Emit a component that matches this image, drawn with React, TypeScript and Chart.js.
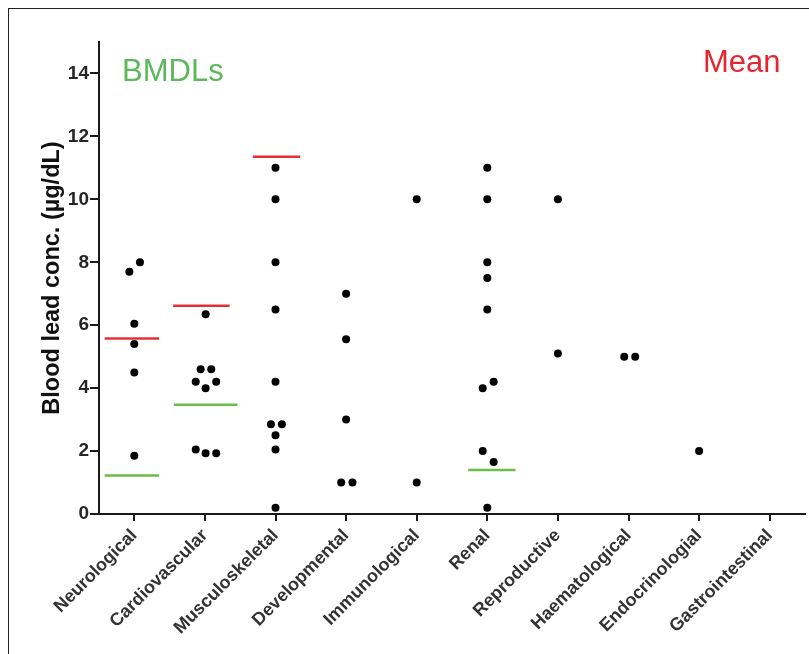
import React, { useEffect, useRef } from 'react';
import { Chart, registerables } from 'chart.js';

Chart.register(...registerables);

// ---- data ----
const categories = [
  'Neurological',
  'Cardiovascular',
  'Musculoskeletal',
  'Developmental',
  'Immunological',
  'Renal',
  'Reproductive',
  'Haematological',
  'Endocrinologial',
  'Gastrointestinal',
];

const yTicks = [0, 2, 4, 6, 8, 10, 12, 14];

const neurological = [8.0, 7.7, 6.05, 5.4, 4.5, 1.85];
const neurologicalJitter = [0.08, -0.07, 0, 0, 0, 0];

const cardiovascular = [6.35, 4.6, 4.6, 4.2, 4.2, 4.0, 2.05, 1.93, 1.93];
const cardiovascularJitter = [0.01, -0.06, 0.09, -0.13, 0.16, 0.01, -0.13, 0.01, 0.16];

const musculoskeletal = [11, 10, 8, 6.5, 4.2, 2.85, 2.85, 2.5, 2.05, 0.2];
const musculoskeletalJitter = [0, 0, 0, 0, 0, -0.065, 0.09, 0, 0, 0];

const developmental = [7.0, 5.55, 3.0, 1.0, 1.0];
const developmentalJitter = [0, 0, 0, -0.07, 0.09];

const immunological = [10, 1.0];
const immunologicalJitter = [0, 0];

const renal = [11, 10, 8.0, 7.5, 6.5, 4.2, 4.0, 2.0, 1.65, 0.2];
const renalJitter = [0, 0, 0, 0, 0, 0.09, -0.065, -0.065, 0.09, 0];

const reproductive = [10, 5.1];
const reproductiveJitter = [0, 0];

const haematological = [5.0, 5.0];
const haematologicalJitter = [-0.06, 0.095];

const endocrinological = [2.0];
const endocrinologicalJitter = [0];

const gastrointestinal: number[] = [];
const gastrointestinalJitter: number[] = [];

const pointValues = [
  neurological, cardiovascular, musculoskeletal, developmental, immunological,
  renal, reproductive, haematological, endocrinological, gastrointestinal,
];
const pointJitter = [
  neurologicalJitter, cardiovascularJitter, musculoskeletalJitter, developmentalJitter,
  immunologicalJitter, renalJitter, reproductiveJitter, haematologicalJitter,
  endocrinologicalJitter, gastrointestinalJitter,
];

// mean lines (red)
const meanCats = [0, 1, 2];
const meanValues = [5.58, 6.62, 11.35];
const meanFrom = [-0.42, -0.45, -0.32];
const meanTo = [0.35, 0.35, 0.35];

// BMDL lines (green)
const bmdlCats = [0, 1, 5];
const bmdlValues = [1.22, 3.47, 1.4];
const bmdlFrom = [-0.42, -0.44, -0.27];
const bmdlTo = [0.35, 0.46, 0.4];

const RED = '#e2303a';
const GREEN = '#6cbd47';
const FONT = '"Liberation Sans", Arial, Helvetica, sans-serif';

const textPlugin = {
  id: 'cornerText',
  afterDraw(chart: any) {
    const ctx = chart.ctx;
    ctx.save();
    ctx.font = `31px ${FONT}`;
    ctx.textBaseline = 'alphabetic';
    ctx.textAlign = 'left';
    ctx.fillStyle = '#5cb85a';
    ctx.fillText('BMDLs', 122, 81);
    ctx.fillStyle = '#e3262f';
    ctx.fillText('Mean', 703, 72);
    ctx.restore();
  },
};

export default function App() {
  const ref = useRef<HTMLCanvasElement | null>(null);

  useEffect(() => {
    if (!ref.current) return;

    const points: { x: number; y: number }[] = [];
    pointValues.forEach((vals, ci) => {
      vals.forEach((v, k) => points.push({ x: ci + pointJitter[ci][k], y: v }));
    });

    const lineDs = (cat: number, v: number, from: number, to: number, color: string) => ({
      type: 'scatter' as const,
      data: [
        { x: cat + from, y: v },
        { x: cat + to, y: v },
      ],
      showLine: true,
      borderColor: color,
      borderWidth: 2.5,
      pointRadius: 0,
      pointHoverRadius: 0,
      fill: false,
    });

    const datasets: any[] = [
      ...meanCats.map((c, i) => lineDs(c, meanValues[i], meanFrom[i], meanTo[i], RED)),
      ...bmdlCats.map((c, i) => lineDs(c, bmdlValues[i], bmdlFrom[i], bmdlTo[i], GREEN)),
      {
        type: 'scatter',
        data: points,
        pointRadius: 4,
        pointHoverRadius: 4,
        backgroundColor: '#000',
        borderWidth: 0,
      },
    ];

    const chart = new Chart(ref.current, {
      type: 'scatter',
      data: { datasets },
      plugins: [textPlugin],
      options: {
        responsive: false,
        animation: false,
        events: [],
        layout: { padding: { left: 0, top: 42, right: 0, bottom: 0 } },
        plugins: { legend: { display: false }, tooltip: { enabled: false } },
        scales: {
          x: {
            type: 'linear',
            min: -0.5,
            max: 9.5,
            afterFit: (s: any) => { s.height = 140; },
            afterBuildTicks: (s: any) => { s.ticks = categories.map((_, i) => ({ value: i })); },
            border: { display: true, color: '#1a1a1a', width: 2 },
            grid: { display: true, drawOnChartArea: false, drawTicks: true, tickLength: 7, lineWidth: 2, color: '#1a1a1a' },
            ticks: {
              autoSkip: false,
              maxRotation: 45,
              minRotation: 45,
              padding: 4,
              color: '#333',
              font: { family: FONT, size: 18, weight: 'bold' },
              callback: (v: any) => categories[v] ?? '',
            },
          },
          y: {
            type: 'linear',
            min: 0,
            max: 15,
            afterFit: (s: any) => { s.width = 99; },
            afterBuildTicks: (s: any) => { s.ticks = yTicks.map((v) => ({ value: v })); },
            border: { display: true, color: '#1a1a1a', width: 2 },
            grid: { display: true, drawOnChartArea: false, drawTicks: true, tickLength: 9, lineWidth: 2, color: '#1a1a1a' },
            ticks: {
              padding: 1,
              color: '#262626',
              font: { family: FONT, size: 19, weight: 'bold' },
            },
            title: {
              display: true,
              text: 'Blood lead conc. (µg/dL)',
              color: '#111',
              font: { family: FONT, size: 23.5, weight: 'bold' },
              padding: { top: 38, bottom: 0 },
            },
          },
        },
      } as any,
    });

    return () => chart.destroy();
  }, []);

  return (
    <div style={{ position: 'fixed', left: 0, top: 0, width: 809, height: 654, background: '#fff', overflow: 'hidden' }}>
      <div
        style={{
          position: 'absolute',
          left: 8,
          top: 8,
          width: 900,
          height: 800,
          borderLeft: '1.5px solid #222',
          borderTop: '1.5px solid #222',
        }}
      />
      <canvas ref={ref} width={809} height={654} style={{ position: 'absolute', left: 0, top: 0, display: 'block' }} />
    </div>
  );
}
